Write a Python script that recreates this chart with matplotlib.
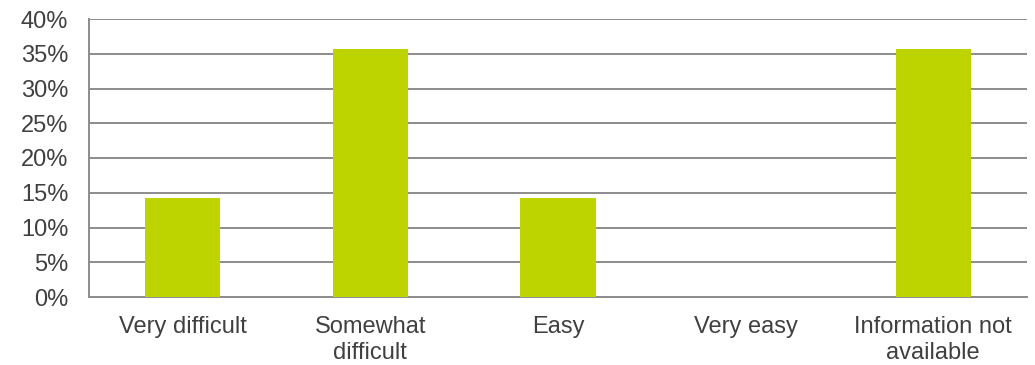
import matplotlib.pyplot as plt
from matplotlib.ticker import PercentFormatter

plt.rcParams['font.family'] = ['Liberation Sans', 'DejaVu Sans']

categories = ['Very difficult', 'Somewhat\ndifficult', 'Easy', 'Very easy',
              'Information not\navailable']
shares = [14.29, 35.71, 14.29, 0.0, 35.71]

fig = plt.figure(figsize=(10.35, 3.65), dpi=100)
ax = fig.add_axes([89 / 1035, 1 - 297 / 365, (1027 - 89) / 1035, (297 - 19) / 365])

x = range(len(categories))
ax.bar(x, shares, width=0.4, color='#bed400', zorder=3)

ax.set_xlim(-0.5, len(categories) - 0.5)
ax.set_ylim(0, 40)
ax.set_yticks(range(0, 41, 5))
ax.yaxis.set_major_formatter(PercentFormatter(decimals=0))
ax.set_xticks(list(x))
ax.set_xticklabels(categories, linespacing=1.2)

ax.grid(axis='y', color='#8c8c8c', linewidth=1.4, zorder=0)
for side in ['top', 'right']:
    ax.spines[side].set_visible(False)
for side in ['left', 'bottom']:
    ax.spines[side].set_color('#8c8c8c')
    ax.spines[side].set_linewidth(1.4)
ax.tick_params(length=0, labelsize=17, labelcolor='#404040')
ax.tick_params(axis='x', pad=14)
ax.tick_params(axis='y', pad=15)

fig.savefig('out.png', dpi=100)
